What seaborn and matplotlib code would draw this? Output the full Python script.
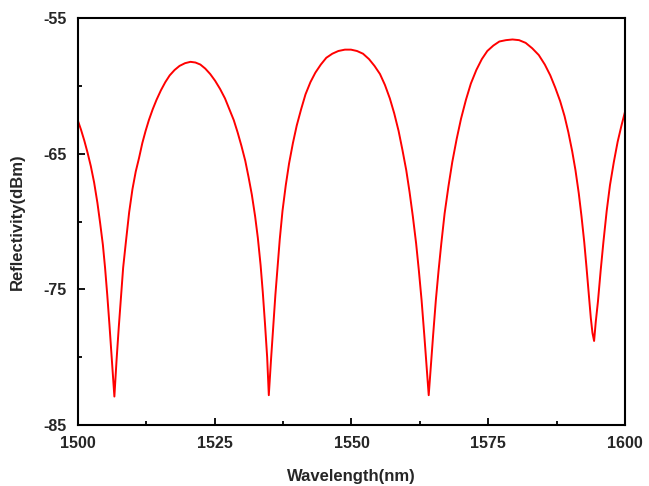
import matplotlib
matplotlib.use("Agg")
import matplotlib.pyplot as plt
import seaborn as sns
import pandas as pd
from matplotlib.ticker import MultipleLocator, FixedLocator

# values
wavelength = [1500.0, 1500.6, 1501.2, 1501.8, 1502.4, 1503.0, 1503.6, 1504.1,
              1504.6, 1505.0, 1505.4, 1505.8, 1506.2, 1506.7, 1507.1, 1507.5,
              1507.9, 1508.3, 1508.8, 1509.4, 1510.0, 1510.6, 1511.2, 1511.8,
              1512.4, 1513.0, 1513.7, 1514.4, 1515.2, 1516.0, 1516.8, 1517.7,
              1518.6, 1519.6, 1520.6, 1521.5, 1522.4, 1523.3, 1524.2, 1525.1,
              1526.0, 1526.9, 1527.7, 1528.5, 1529.2, 1529.9, 1530.6, 1531.2,
              1531.8, 1532.4, 1532.9, 1533.4, 1533.8, 1534.2, 1534.6, 1534.9,
              1535.3, 1535.7, 1536.1, 1536.5, 1536.9, 1537.4, 1538.0, 1538.6,
              1539.3, 1540.0, 1540.8, 1541.6, 1542.5, 1543.4, 1544.4, 1545.4,
              1546.5, 1547.6, 1548.8, 1549.9, 1551.0, 1552.1, 1553.2, 1554.2,
              1555.2, 1556.1, 1557.0, 1557.8, 1558.6, 1559.3, 1560.0, 1560.6,
              1561.2, 1561.8, 1562.3, 1562.8, 1563.3, 1563.7, 1564.1, 1564.5,
              1564.9, 1565.4, 1565.9, 1566.4, 1567.0, 1567.7, 1568.4, 1569.2,
              1570.0, 1570.9, 1571.8, 1572.8, 1573.8, 1574.8, 1575.9, 1577.0,
              1578.2, 1579.4, 1580.6, 1581.8, 1583.0, 1584.2, 1585.3, 1586.3,
              1587.2, 1588.1, 1588.9, 1589.6, 1590.3, 1590.9, 1591.5, 1592.0,
              1592.5, 1592.9, 1593.3, 1593.7, 1594.0, 1594.3, 1594.6, 1595.0,
              1595.5, 1596.0, 1596.6, 1597.2, 1597.9, 1598.6, 1599.3, 1600.0]
reflectivity = [-62.5, -63.2, -64.0, -64.9, -65.9, -67.1, -68.6, -70.1,
                -71.7, -73.4, -75.4, -77.6, -80.0, -82.9, -80.2, -77.8,
                -75.6, -73.4, -71.5, -69.3, -67.6, -66.3, -65.3, -64.2,
                -63.3, -62.5, -61.7, -61.0, -60.3, -59.7, -59.2, -58.8,
                -58.5, -58.3, -58.2, -58.25, -58.4, -58.7, -59.1, -59.6,
                -60.2, -60.9, -61.7, -62.5, -63.4, -64.4, -65.5, -66.7,
                -68.0, -69.6, -71.2, -73.2, -75.2, -77.5, -80.0, -82.8,
                -80.2, -77.8, -75.4, -73.3, -71.3, -69.2, -67.3, -65.7,
                -64.2, -62.9, -61.7, -60.6, -59.7, -59.0, -58.4, -57.9,
                -57.6, -57.4, -57.3, -57.3, -57.4, -57.6, -58.0, -58.5,
                -59.1, -59.9, -60.9, -62.0, -63.3, -64.7, -66.2, -67.8,
                -69.6, -71.6, -73.6, -75.8, -78.4, -80.6, -82.8, -80.6,
                -78.4, -75.8, -73.6, -71.6, -69.4, -67.4, -65.6, -63.9,
                -62.4, -61.0, -59.8, -58.8, -58.0, -57.4, -57.0, -56.7,
                -56.6, -56.55, -56.6, -56.8, -57.2, -57.7, -58.4, -59.2,
                -60.1, -61.1, -62.2, -63.4, -64.8, -66.2, -67.9, -69.6,
                -71.5, -73.3, -75.2, -77.1, -78.2, -78.8, -77.4, -75.9,
                -73.6, -71.5, -69.2, -67.3, -65.6, -64.1, -62.9, -61.8]

x_ticks = [1500, 1525, 1550, 1575, 1600]
y_ticks = [-85, -75, -65, -55]

df = pd.DataFrame({"Wavelength(nm)": wavelength, "Reflectivity(dBm)": reflectivity})

sns.set_style("ticks")
plt.rcParams["font.family"] = ["Liberation Sans", "DejaVu Sans"]
plt.rcParams["font.weight"] = "bold"
plt.rcParams["axes.unicode_minus"] = False

fig = plt.figure(figsize=(6.49, 4.86), dpi=100)
ax = fig.add_axes([0.1197, 0.1255, 0.8438, 0.8365])

sns.lineplot(data=df, x="Wavelength(nm)", y="Reflectivity(dBm)", ax=ax,
             color="#ff0000", linewidth=1.4, estimator=None, sort=False)

ax.set_xlim(1500, 1600)
ax.set_ylim(-85, -55)
ax.xaxis.set_major_locator(FixedLocator(x_ticks))
ax.xaxis.set_minor_locator(MultipleLocator(12.5))
ax.yaxis.set_major_locator(FixedLocator(y_ticks))
ax.yaxis.set_minor_locator(MultipleLocator(5))
ax.tick_params(which="both", direction="in", top=False, right=False,
               labelsize=11.5, width=1.3, color="black")
ax.tick_params(which="major", length=5, pad=8)
ax.tick_params(which="minor", length=3)
for lbl in ax.get_xticklabels() + ax.get_yticklabels():
    lbl.set_fontweight("bold")

for side in ["left", "right", "top", "bottom"]:
    ax.spines[side].set_visible(True)
    ax.spines[side].set_color("black")
    ax.spines[side].set_linewidth(1.5)

ax.set_xlabel("Wavelength(nm)", fontsize=12, fontweight="bold", labelpad=13)
ax.set_ylabel("Reflectivity(dBm)", fontsize=12, fontweight="bold", labelpad=13)

fig.savefig("out.png", dpi=100)
